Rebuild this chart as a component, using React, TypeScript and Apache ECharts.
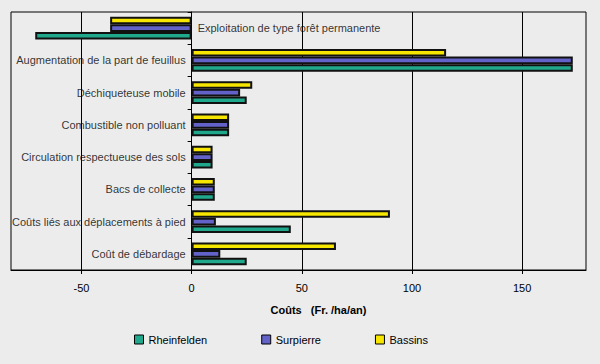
import React, { useEffect, useRef } from "react";
import * as echarts from "echarts";

const categories = [
  "Exploitation de type forêt permanente",
  "Augmentation de la part de feuillus",
  "Déchiqueteuse mobile",
  "Combustible non polluant",
  "Circulation respectueuse des sols",
  "Bacs de collecte",
  "Coûts liés aux déplacements à pied",
  "Coût de débardage",
];
const rheinfelden = [-71, 173, 25, 17, 9.5, 10.5, 45, 25];
const surpierre = [-37, 173, 22, 17, 9.5, 10.5, 11, 13];
const bassins = [-37, 115.5, 27.5, 17, 9.5, 10.5, 90, 65.5];
const xTicks = [-50, 0, 50, 100, 150];
const seriesNames = ["Rheinfelden", "Surpierre", "Bassins"];

const FONT = "'Liberation Sans', Arial, sans-serif";

export default function App() {
  const ref = useRef<HTMLDivElement>(null);
  useEffect(() => {
    if (!ref.current) return;
    const chart = echarts.init(ref.current, null, { renderer: "svg" });
    const colors = ["#20a88c", "#6362c8", "#f7e600"];
    const data = [rheinfelden, surpierre, bassins];
    const barSeries = seriesNames.map((name, i) => ({
      name,
      type: "bar",
      data: data[i],
      barGap: "0%",
      barCategoryGap: "30%",
      itemStyle: { color: colors[i], borderColor: "#111", borderWidth: 2 },
      z: 3,
    }));
    // reverse so that Bassins is on top within each group
    const orderedBars = [...barSeries].reverse();
    const labelSeries = {
      name: "labels",
      type: "scatter",
      symbolSize: 0,
      silent: true,
      z: 5,
      data: categories.map((c, i) => {
        const neg = Math.min(rheinfelden[i], surpierre[i], bassins[i]) < 0;
        return {
          value: [0, c],
          label: {
            show: true,
            position: neg ? "right" : "left",
            distance: 6,
            formatter: c,
            color: "#000",
            fontSize: 11,
            fontFamily: FONT,
          },
        };
      }),
    };
    chart.setOption({
      animation: false,
      backgroundColor: "#ececec",
      textStyle: { fontFamily: FONT },
      grid: {
        left: 11,
        top: 12,
        width: 575,
        height: 258,
        show: true,
        borderColor: "#000",
        borderWidth: 1,
        backgroundColor: "transparent",
      },
      legend: {
        data: seriesNames,
        left: 129,
        top: 329,
        itemWidth: 9,
        itemHeight: 9,
        itemGap: 54,
        icon: "rect",
        itemStyle: { borderColor: "#000", borderWidth: 1 },
        textStyle: { color: "#000", fontSize: 11, fontFamily: FONT },
      },
      xAxis: {
        type: "value",
        min: -82,
        max: 179,
        name: "Coûts   (Fr. /ha/an)",
        nameLocation: "middle",
        nameGap: 34,
        nameTextStyle: {
          color: "#000",
          fontWeight: "bold",
          fontSize: 11,
          fontFamily: FONT,
          padding: [0, 0, 0, 40],
        },
        axisLine: { show: true, lineStyle: { color: "#000" } },
        axisTick: {
          show: true,
          length: 4,
          customValues: xTicks,
          lineStyle: { color: "#000" },
        },
        axisLabel: {
          customValues: xTicks,
          color: "#000",
          fontSize: 11,
          fontFamily: FONT,
          margin: 12,
        },
        splitLine: { show: true, lineStyle: { color: "#000", width: 1 } },
      },
      yAxis: {
        type: "category",
        data: categories,
        inverse: true,
        axisLine: { show: true, onZero: true, lineStyle: { color: "#000" } },
        axisTick: { show: true, length: 4, lineStyle: { color: "#000" } },
        axisLabel: { show: false },
        splitLine: { show: false },
      },
      series: [...orderedBars, labelSeries],
    });
    return () => chart.dispose();
  }, []);
  return (
    <div
      ref={ref}
      style={{ position: "fixed", left: 0, top: 0, width: 600, height: 364 }}
    />
  );
}
